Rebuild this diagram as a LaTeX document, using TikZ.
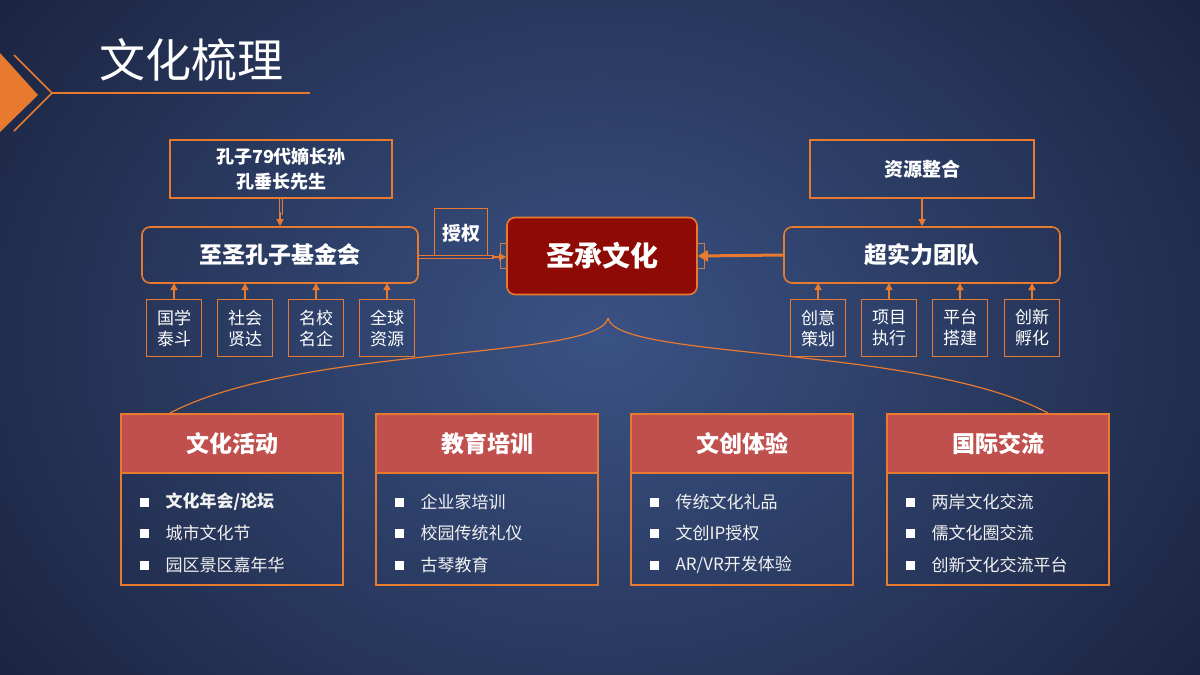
\documentclass[tikz,border=0pt]{standalone}
\usepackage{fontspec}
\setmainfont{Noto Sans CJK SC}
\usetikzlibrary{arrows.meta}
\definecolor{org}{HTML}{E87A30}
\definecolor{hdr}{HTML}{C0504D}
\definecolor{dred}{HTML}{8E0A05}
\definecolor{bgin}{HTML}{3A5284}
\definecolor{bgout}{HTML}{1B2440}
\definecolor{bgmid}{HTML}{2E4170}
\tikzset{x=1pt,y=-1pt,
 ob/.style={draw=org,line width=1.6pt,text=white,align=center},
 sm/.style={ob,minimum width=55pt,minimum height=57pt,font=\fontsize{17}{21}\selectfont},
 up/.style={draw=org,line width=1.4pt,-{Triangle[length=7pt,width=7pt]}},
 dbl/.style={draw=org,line width=1.2pt,double=bgmid,double distance=2pt},
 hd/.style={draw=org,fill=hdr,line width=1.6pt,minimum width=222pt,minimum height=59pt,text=white,font=\fontsize{23}{26}\selectfont\bfseries},
 bd/.style={draw=org,line width=1.6pt,minimum width=222pt,minimum height=112pt},
 it/.style={text=white!90!gray,anchor=west,font=\fontsize{17}{20}\selectfont}}
\begin{document}
\begin{tikzpicture}
\useasboundingbox (0,0) rectangle (1200,675);
\clip (0,0) rectangle (1200,675);
\shade[inner color=bgin, outer color=bgout] (-150,-250) rectangle (1350,925);
% title
\node[text=white,anchor=west,font=\fontsize{46}{50}\selectfont] (title) at (96,60) {文化梳理};
\fill[org] (0,53) -- (38,95) -- (0,132) -- cycle;
\draw[org,line width=1.6pt] (14,55) -- (52,93) -- (14,131);
\draw[org,line width=1.6pt] (52,93) -- (310,93);
% left
\node[ob,minimum width=222pt,minimum height=58pt,font=\fontsize{18}{25}\selectfont\bfseries] (kz) at (281,169) {孔子79代嫡长孙\\孔垂长先生};
\node[ob,rounded corners=8pt,minimum width=276pt,minimum height=56pt,font=\fontsize{23}{26}\selectfont\bfseries] (jj) at (280,255) {至圣孔子基金会};
\draw[dbl] (kz.south) -- ++(0,16);
\draw[up] (280,212) -- (jj.north);
\foreach \x/\t/\n in {174/国学\\泰斗/a,245/社会\\贤达/b,316/名校\\名企/c,387/全球\\资源/d}{
 \node[sm] (\n) at (\x,328) {\t};
 \draw[up] (\n.north) -- (\x,283);
}
\node[ob,minimum width=53pt,minimum height=49pt,font=\fontsize{19}{22}\selectfont\bfseries] (sq) at (461,233) {授权};
\node[draw=org,line width=1.6pt,fill=dred,rounded corners=8pt,minimum width=190pt,minimum height=77pt,text=white,font=\fontsize{28}{30}\selectfont\bfseries] (sc) at (602,256) {圣承文化};
\draw[org!70!gray,line width=1pt] (500,243) rectangle (507,268) (697,243) rectangle (704,268);
\draw[dbl] (jj.east |- 0,257) -- (494,257);
\draw[up] (492,257) -- (sc.west |- 0,257);
% right
\node[ob,minimum width=224pt,minimum height=58pt,font=\fontsize{19}{22}\selectfont\bfseries] (zy) at (922,169) {资源整合};
\node[ob,rounded corners=8pt,minimum width=276pt,minimum height=56pt,font=\fontsize{23}{26}\selectfont\bfseries] (cs) at (922,255) {超实力团队};
\draw[up] (zy.south) -- (cs.north);
\draw[org,line width=3pt,-{Triangle[length=10pt,width=11pt]}] (cs.west) -- (sc.east);
\foreach \x/\t/\n in {818/创意\\策划/e,889/项目\\执行/f,960/平台\\搭建/g,1032/创新\\孵化/h}{
 \node[sm] (\n) at (\x,328) {\t};
 \draw[up] (\n.north) -- (\x,283);
}
% brace curves
\coordinate (ap) at (608,318);
\draw[org,line width=1.2pt] (ap) .. controls (600,360) and (300,345) .. (170,413);
\draw[org,line width=1.2pt] (ap) .. controls (616,360) and (920,345) .. (1048,413);
% bottom
\foreach \x/\h/\a/\b/\c/\n in {232/文化活动/{\bfseries 文化年会/论坛}/城市文化节/园区景区嘉年华/p,487/教育培训/企业家培训/校园传统礼仪/古琴教育/q,742/文创体验/传统文化礼品/文创IP授权/{AR/VR开发体验}/r,998/国际交流/两岸文化交流/儒文化圈交流/创新文化交流平台/s}{
 \node[bd] (\n b) at (\x,529) {};
 \node[hd] (\n h) at (\x,443.5) {\h};
 \foreach \y/\t in {502/\a,533/\b,565/\c}{
  \fill[white] (\x-92,\y-4.5) rectangle ++(9,9);
  \node[it] at (\x-70,\y) {\t};
 }
}
\end{tikzpicture}
\end{document}
